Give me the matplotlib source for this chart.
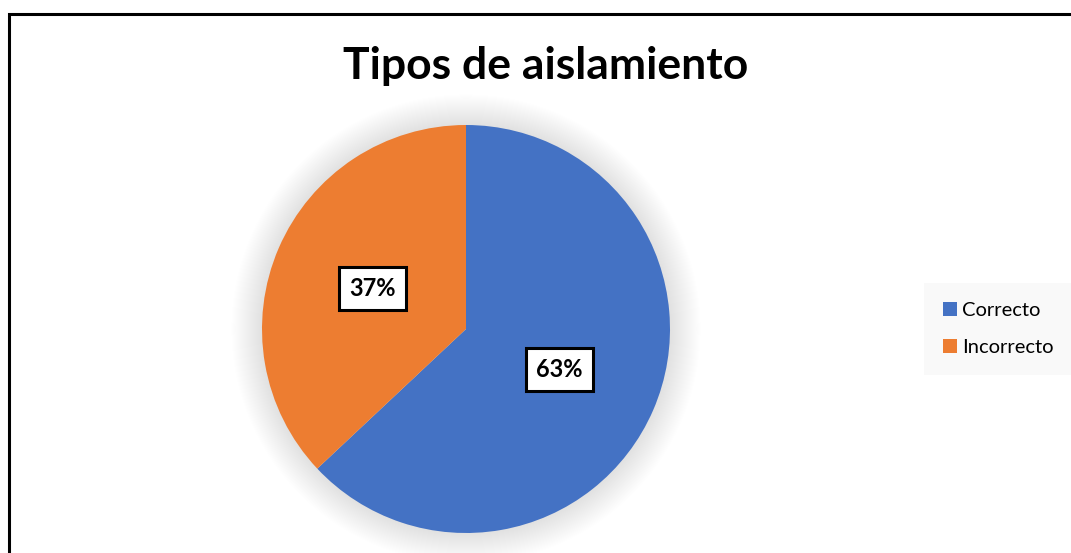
import matplotlib
matplotlib.use("Agg")
import matplotlib.pyplot as plt
from matplotlib.patches import Rectangle, Circle, Patch

categories = ["Correcto", "Incorrecto"]
values = [63, 37]
colors = ["#4472C4", "#ED7D31"]
title = "Tipos de aislamiento"

W, H = 1071, 553
fig = plt.figure(figsize=(W / 100, H / 100), dpi=100)
fig.patch.set_facecolor("white")

# border
fig.add_artist(Rectangle((9 / W, -0.05), 1.2, (553 - 14) / H + 0.05,
                         transform=fig.transFigure, fill=False,
                         edgecolor="black", linewidth=2.2))

cx, cy, r = 466, 329, 204
ax = fig.add_axes([(cx - r) / W, (H - cy - r) / H, 2 * r / W, 2 * r / H])

# soft shadow
n = 30
for i in range(n):
    rr = 1.0 + 0.15 * (n - i) / n
    ax.add_patch(Circle((0.0, 0.0), rr, facecolor="black", edgecolor="none",
                        alpha=0.0038, zorder=0, clip_on=False))

wedges, texts, autotexts = ax.pie(
    values, colors=colors, startangle=90, counterclock=False,
    radius=1.0, autopct="%1.0f%%", pctdistance=0.5,
    wedgeprops=dict(linewidth=0, edgecolor="none"),
    textprops=dict(fontsize=17, fontweight="bold", family="Lato", color="black"),
)
for w in wedges:
    w.set_zorder(2)
    w.set_clip_on(False)
for t in autotexts:
    t.set_zorder(3)
    t.set_bbox(dict(boxstyle="square,pad=0.42", facecolor="white",
                    edgecolor="black", linewidth=2.2))
ax.set_xlim(-1, 1)
ax.set_ylim(-1, 1)
ax.set_aspect("auto")
ax.axis("off")

fig.text(546 / W, 1 - 66 / H, title, ha="center", va="center",
         fontsize=32, fontweight="bold", family="Lato", color="black")

handles = [Patch(facecolor=c, edgecolor="none") for c in colors]
leg = fig.legend(handles, categories, loc="center left",
                 bbox_to_anchor=(924 / W, 1 - 329 / H),
                 frameon=True, fancybox=False,
                 prop=dict(family="Lato", size=14.5),
                 handlelength=0.7, handleheight=0.7, handletextpad=0.25,
                 labelspacing=1.0, borderpad=0.95, borderaxespad=0)
leg.get_frame().set_facecolor("#f8f8f8")
leg.get_frame().set_edgecolor("none")

fig.savefig("out.png", dpi=100, facecolor="white")
